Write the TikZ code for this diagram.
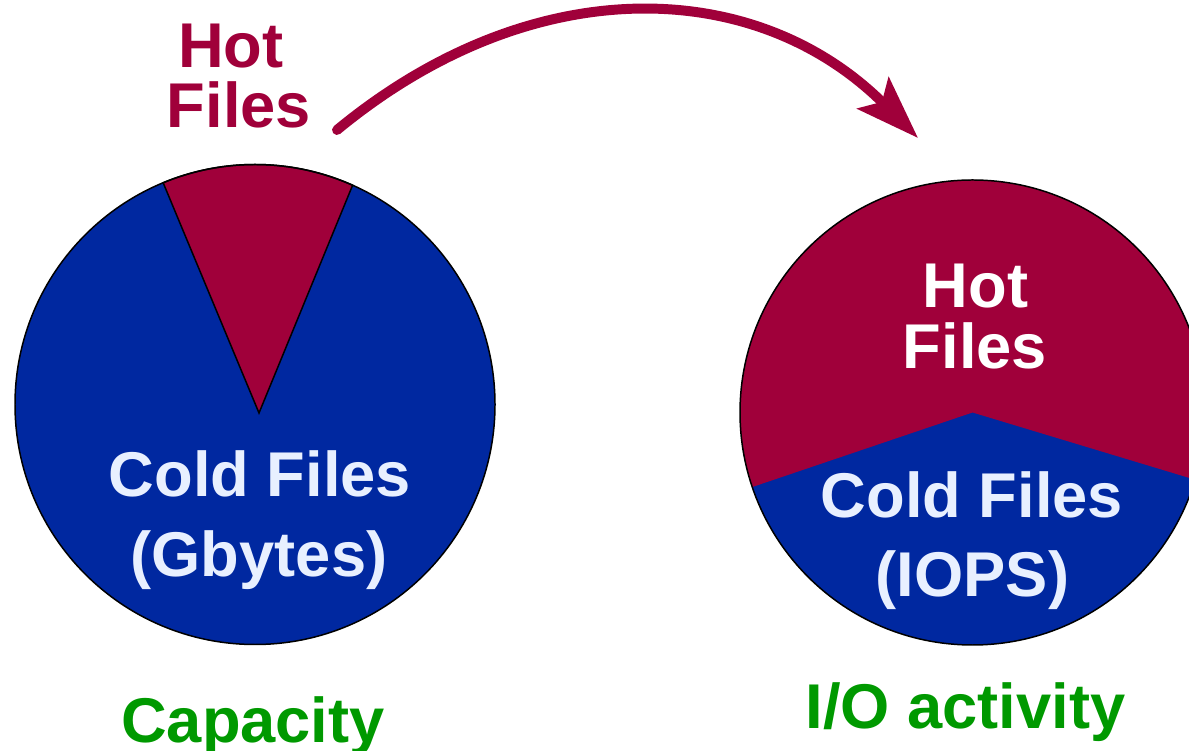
\documentclass[tikz,border=0pt]{standalone}
\usepackage{fontspec}
\setmainfont{Liberation Sans}
\usetikzlibrary{arrows.meta}
\definecolor{hotred}{HTML}{A0003A}
\definecolor{coldblue}{HTML}{0028A0}
\definecolor{coldtext}{HTML}{E8F0FF}
\definecolor{labelgreen}{HTML}{009900}
\tikzset{
  bigtext/.style={font=\fontsize{36}{40}\selectfont\bfseries, inner sep=0pt, anchor=base},
  pieline/.style={draw=black, line width=0.85pt},
}
\begin{document}
\begin{tikzpicture}[x=0.02cm, y=0.02cm]
\useasboundingbox (0,0) rectangle (1189,750);
\clip (0,0) rectangle (1189,750);

% Capacity pie: mostly cold, thin hot wedge
\coordinate (L) at (255,345.5);
\coordinate (Lapex) at (259,337);
\fill[coldblue] (L) circle[radius=240];
\fill[hotred, pieline] (Lapex) -- ([shift={(112.5:240)}]L) arc[start angle=112.5, end angle=66, radius=240] -- cycle;
\draw[pieline] (L) circle[radius=240];

% I/O activity pie: hot files take the larger share
\coordinate (R) at (972.5,337.5);
\fill[coldblue] (R) circle[radius=232.5];
\fill[hotred] (R) -- ([shift={(-16.8:232.5)}]R) arc[start angle=-16.8, end angle=198.7, radius=232.5] -- cycle;
\draw[pieline] (R) circle[radius=232.5];

% Labels
\node[bigtext, text=hotred] (lhot1) at (231,682) {Hot};
\node[bigtext, text=hotred] (lhot2) at (239,622) {Files};
\node[bigtext, text=coldtext] (lcold1) at (260,253) {Cold Files};
\node[bigtext, text=coldtext] (lcold2) at (259,173) {(Gbytes)};
\node[bigtext, text=white] (rhot1) at (975.5,442) {Hot};
\node[bigtext, text=white] (rhot2) at (975,381) {Files};
\node[bigtext, text=coldtext] (rcold1) at (972,232) {Cold Files};
\node[bigtext, text=coldtext] (rcold2) at (972.5,153) {(IOPS)};
\node[bigtext, text=labelgreen] (cap) at (253,8) {Capacity};
\node[bigtext, text=labelgreen] (io) at (965.5,22) {I/O activity};

% Curved arrow from the hot files label to the second pie
\coordinate (arrowstart) at (337,620);
\coordinate (arrowend) at (918,612);
\draw[hotred, line width=5.67pt, line cap=round,
      -{Stealth[length=36pt, width=25pt, inset=7pt, line cap=butt]}]
  (arrowstart) .. controls (532,781) and (756,774) .. (arrowend);
\end{tikzpicture}
\end{document}
